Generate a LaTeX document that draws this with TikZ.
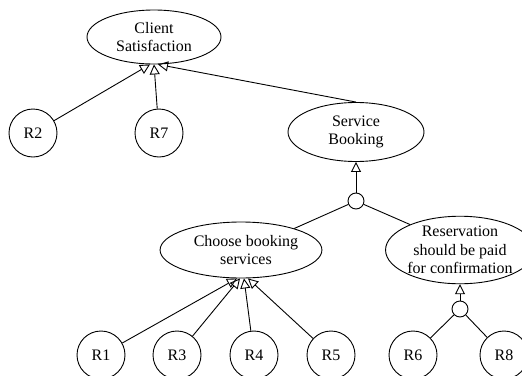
\documentclass[tikz,border=0pt]{standalone}
\usepackage{fontspec}
\setmainfont{Liberation Serif}
\usetikzlibrary{arrows.meta,shapes.geometric}
\begin{document}
\begin{tikzpicture}[x=1pt,y=-1pt,
  every node/.style={font=\fontsize{16}{18.5}\selectfont},
  goal/.style={draw,ellipse,inner sep=0pt,align=center,line width=0.9pt},
  req/.style={draw,circle,minimum size=48pt,inner sep=0pt,line width=0.9pt},
  andnode/.style={draw,circle,minimum size=16pt,inner sep=0pt,line width=0.9pt},
  link/.style={line width=0.9pt},
  arr/.style={line width=0.9pt,-{Triangle[open,length=10pt,width=10pt]}}]
\useasboundingbox (0,0) rectangle (522,375);
\begin{scope}
\clip (0,0) rectangle (522,375);
\node[goal,minimum width=134pt,minimum height=54pt] (cs) at (154,37) {Client\\Satisfaction};
\node[goal,minimum width=136pt,minimum height=59pt] (sb) at (356,132) {Service\\Booking};
\node[goal,minimum width=130pt,minimum height=56pt] (cb) at (241,250) {\hspace*{10pt}Choose booking\\\hspace*{10pt}services};
\node[goal,minimum width=130pt,minimum height=54pt] (rv) at (460,250) {Reservation\\should be paid\\for confirmation};
\node[andnode] (a1) at (356,201) {};
\node[andnode] (a2) at (460,309) {};
\node[req] (r2) at (33,133) {R2};
\node[req] (r7) at (159,133) {R7};
\node[req] (r1) at (101,355) {R1};
\node[req] (r3) at (177,355) {R3};
\node[req] (r4) at (254,355) {R4};
\node[req] (r5) at (331,355) {R5};
\node[req] (r6) at (413,355) {R6};
\node[req] (r8) at (504,355) {R8};
\draw[arr] (r2) -- ([xshift=-4pt]cs.south);
\draw[arr] (r7) -- ([xshift=0pt]cs.south);
\draw[arr] (sb.north) -- ([xshift=4pt]cs.south);
\draw[arr] (a1) -- (sb);
\draw[link] (a1) -- (cb.22);
\draw[link] (a1) -- (rv.153);
\draw[arr] (r1) -- ([xshift=-4pt]cb.south);
\draw[arr] (r3) -- ([xshift=-1pt]cb.south);
\draw[arr] (r4) -- ([xshift=3pt]cb.south);
\draw[arr] (r5) -- ([xshift=7pt]cb.south);
\draw[arr] (a2) -- (rv);
\draw[link] (a2) -- (r6);
\draw[link] (a2) -- (r8);
\end{scope}
\end{tikzpicture}
\end{document}
